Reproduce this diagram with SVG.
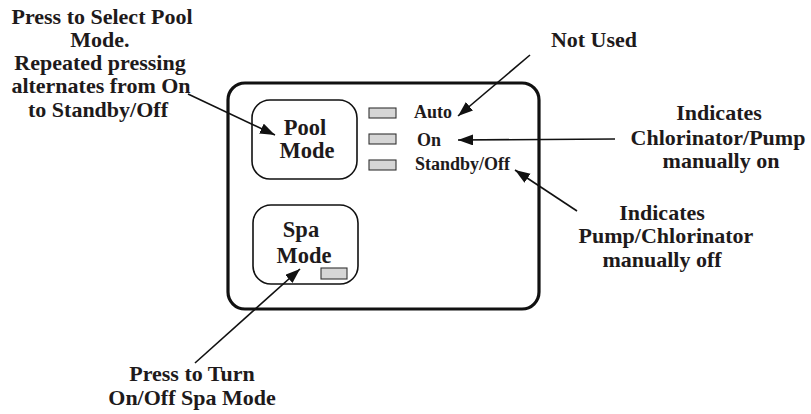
<svg xmlns="http://www.w3.org/2000/svg" width="811" height="414" viewBox="0 0 811 414">
<defs>
<style>
text{font-family:"Liberation Serif","Times New Roman",serif;font-weight:700;fill:#1e1a1b;}
.ann{font-size:22px;text-anchor:middle;}
.btn{font-size:22.5px;text-anchor:middle;}
.led-label{font-size:18px;}
.panel{fill:#fff;stroke:#111;stroke-width:3.2;}
.button{fill:#fff;stroke:#111;stroke-width:1.6;}
.led{fill:#d6d6d6;stroke:#333;stroke-width:1.1;}
.conn{stroke:#111;stroke-width:1.6;fill:none;marker-end:url(#arrow);}
</style>
<marker id="arrow" markerUnits="userSpaceOnUse" markerWidth="16" markerHeight="12" refX="15" refY="5.5" orient="auto">
<path d="M0,0 L15,5.5 L0,11 z" fill="#111"/>
</marker>
</defs>
<rect width="811" height="414" fill="#fff"/>
<g id="panel">
<rect class="panel" x="228" y="83" width="311" height="226" rx="17"/>
</g>
<g id="pool-mode">
<rect class="button" x="252" y="100" width="105" height="79" rx="18"/>
<text class="btn" x="305" y="135">Pool</text>
<text class="btn" x="307" y="158">Mode</text>
</g>
<g id="spa-mode">
<rect class="button" x="253" y="205" width="105" height="79" rx="18"/>
<text class="btn" x="301" y="237">Spa</text>
<text class="btn" x="304" y="263">Mode</text>
<rect class="led" x="321" y="268" width="26" height="11"/>
</g>
<g id="led-auto">
<rect class="led" x="369" y="108" width="27" height="10"/>
<text class="led-label" x="414" y="118">Auto</text>
</g>
<g id="led-on">
<rect class="led" x="369" y="134" width="27" height="10"/>
<text class="led-label" x="417" y="146">On</text>
</g>
<g id="led-standby">
<rect class="led" x="369" y="160" width="27" height="10"/>
<text class="led-label" x="415" y="170">Standby/Off</text>
</g>
<g id="label-pool">
<text class="ann" x="102" y="24">Press to Select Pool</text>
<text class="ann" x="100" y="47">Mode.</text>
<text class="ann" x="100" y="70">Repeated pressing</text>
<text class="ann" x="101" y="93">alternates from On</text>
<text class="ann" x="98" y="117">to Standby/Off</text>
</g>
<g id="label-not-used">
<text class="ann" x="594" y="47">Not Used</text>
</g>
<g id="label-on">
<text class="ann" x="719" y="120">Indicates</text>
<text class="ann" x="718" y="145">Chlorinator/Pump</text>
<text class="ann" x="721" y="168">manually on</text>
</g>
<g id="label-off">
<text class="ann" x="662" y="220">Indicates</text>
<text class="ann" x="666" y="243">Pump/Chlorinator</text>
<text class="ann" x="662" y="267">manually off</text>
</g>
<g id="label-spa">
<text class="ann" x="192" y="381">Press to Turn</text>
<text class="ann" x="192" y="405">On/Off Spa Mode</text>
</g>
<g id="connectors">
<line class="conn" x1="188" y1="94" x2="275" y2="135"/>
<line class="conn" x1="530" y1="55" x2="458" y2="116"/>
<line class="conn" x1="615" y1="139" x2="458" y2="140"/>
<line class="conn" x1="577" y1="211" x2="515" y2="170"/>
<line class="conn" x1="195" y1="363" x2="300" y2="269"/>
</g>
</svg>
